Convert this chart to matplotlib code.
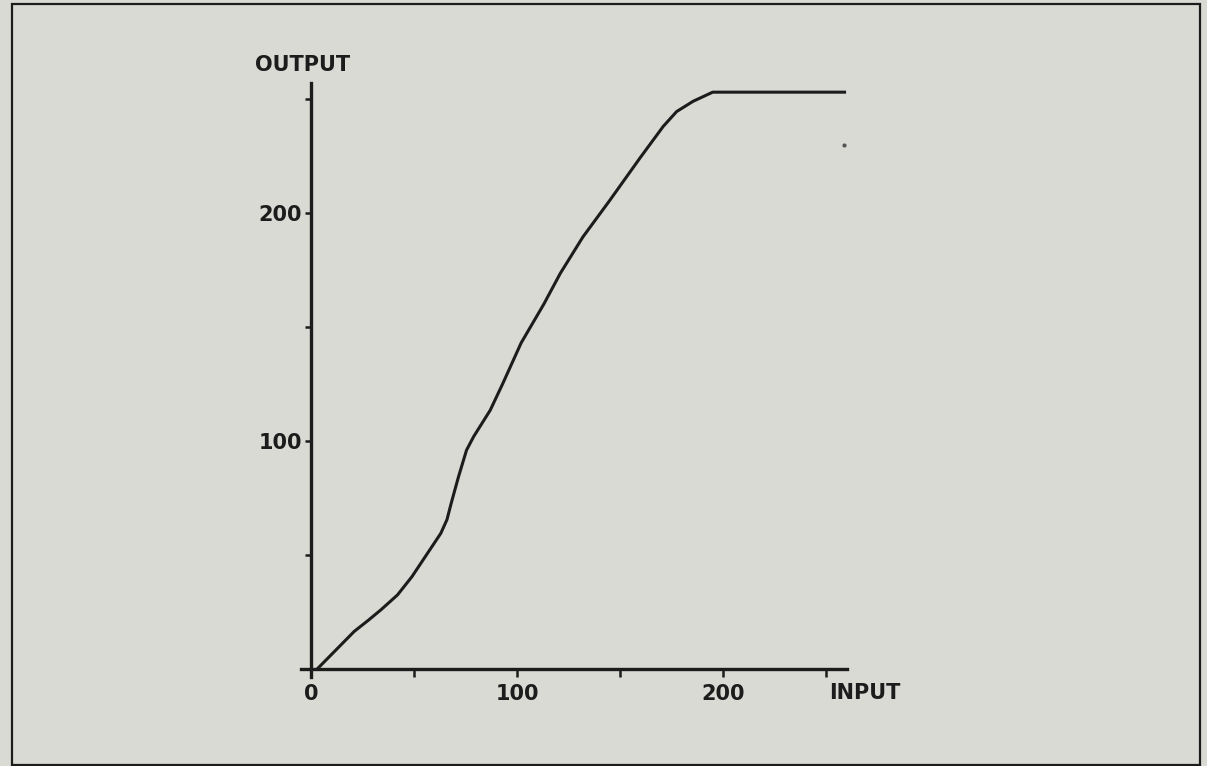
import numpy as np
import matplotlib
matplotlib.use("Agg")
import matplotlib.pyplot as plt
from matplotlib.patches import Rectangle
from matplotlib.transforms import offset_copy

# transfer curve
input_vals = [3, 9, 15, 21, 28, 34, 42, 49, 56, 63, 66, 68, 71.5, 75.5, 79,
              87, 93, 102, 113, 121, 132, 145, 160, 171, 177.5, 185.5, 195,
              213, 259]
output_vals = [0, 5.5, 11, 16.5, 21.5, 26, 32.5, 40.5, 50, 59.5, 65.5, 72.5, 84,
               96, 102, 113.5, 125, 143, 160, 173.5, 189.5, 205.5, 224.5,
               238, 244.5, 249, 253, 253, 253]

# stray plotter dot
dot_x = [258.5]
dot_y = [230]

x_ticks = [0, 50, 100, 150, 200, 250]
x_labels = ["0", "", "100", "", "200", ""]
y_ticks = [0, 50, 100, 150, 200, 250]
y_labels = ["", "", "100", "", "200", ""]

W, H = 1207, 766
bg = "#d9dad3"
ink = "#1c1c1c"

fig = plt.figure(figsize=(W / 100, H / 100), dpi=100, facecolor=bg)

# axes box in pixels: left, top, right, bottom
L, T, R, B = 300, 80, 850, 680
ax = fig.add_axes([L / W, 1 - B / H, (R - L) / W, (B - T) / H])
ax.set_facecolor(bg)

# origin at (311, 669) px, 2.06 px per input unit, 2.28 px per output unit
x0, y0, sx, sy = 311, 669, 2.06, 2.28
ax.set_xlim((L - x0) / sx, (R - x0) / sx)
ax.set_ylim((y0 - B) / sy, (y0 - T) / sy)

ax.plot(input_vals, output_vals, color=ink, lw=2.2, solid_joinstyle="round")
ax.plot(dot_x, dot_y, "o", color="#555555", ms=3, mec="none")

for side in ["top", "right"]:
    ax.spines[side].set_visible(False)
ax.spines["left"].set_position(("data", 0))
ax.spines["bottom"].set_position(("data", 0))
ax.spines["left"].set_bounds(-3.5, 257)
ax.spines["bottom"].set_bounds(-5, 260)
for side in ["left", "bottom"]:
    ax.spines[side].set_linewidth(2.4)
    ax.spines[side].set_color(ink)

font = dict(family="DejaVu Sans", weight="bold", size=15)

ax.set_xticks(x_ticks)
ax.set_xticklabels(x_labels, **font, color=ink)
ax.set_yticks(y_ticks)
ax.set_yticklabels(y_labels, **font, color=ink)
ax.tick_params(axis="x", direction="out", length=6, width=1.8, color=ink, pad=5)
ax.tick_params(axis="y", direction="out", length=4.5, width=1.8, color=ink, pad=2)

ax.text(0, 257, "OUTPUT", transform=offset_copy(ax.transData, fig, x=-56, y=8, units="dots"),
        ha="left", va="bottom", **font, color=ink)
ax.text(251.5, 0, "INPUT", transform=offset_copy(ax.transData, fig, x=0, y=-14, units="dots"),
        ha="left", va="top", **font, color=ink)

# outer frame
fig.patches.append(Rectangle((12 / W, 1 - 765 / H), 1188 / W, 761 / H,
                             transform=fig.transFigure, fill=False,
                             edgecolor=ink, lw=1.6))

fig.savefig("out.png", dpi=100, facecolor=bg)
